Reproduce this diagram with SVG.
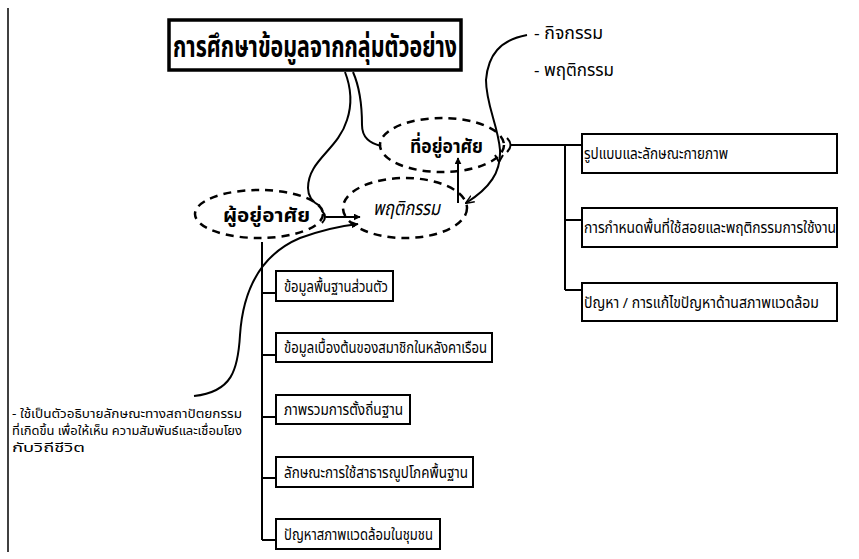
<svg xmlns="http://www.w3.org/2000/svg" width="859" height="559" viewBox="0 0 859 559">
<defs>
<style>
text{font-family:"Noto Sans Thai","Noto Sans","DejaVu Sans",sans-serif;fill:#000}
.box{fill:#fff;stroke:#000;stroke-width:2}
.ell{fill:none;stroke:#000;stroke-width:2.5;stroke-dasharray:8 6}
.ln{fill:none;stroke:#000;stroke-width:2}
.bt{font-size:15px}
.nt{font-size:12px}
.et{font-size:20px;font-weight:bold}
</style>
<marker id="ah" viewBox="0 0 10 10" refX="9" refY="5" markerWidth="7" markerHeight="7" orient="auto" markerUnits="userSpaceOnUse"><path d="M0,0 L10,5 L0,10 z" fill="#000"/></marker>
<marker id="av" viewBox="0 0 10 10" refX="9" refY="5" markerWidth="9" markerHeight="9" orient="auto" markerUnits="userSpaceOnUse"><path d="M0,1 L10,5 L0,9" fill="none" stroke="#000" stroke-width="1.5"/></marker>
</defs>
<rect width="859" height="559" fill="#fff"/>
<line x1="8" y1="8" x2="8" y2="552" stroke="#000" stroke-width="1.5"/>

<g id="connectors">
<path class="ln" d="M345,72 C352,90 352,105 347,120 C338,150 308,160 308,188 C308,198 314,203 320,206"/>
<path class="ln" d="M353,72 C360,88 362,105 362,125 C362,138 370,143 381,146"/>
<path class="ln" d="M507,138 Q514,145 507,152 M511,145 L582,145 M565,145 L565,290 M565,220 L582,220 M565,290 L582,290"/>
<path class="ln" d="M322,211 Q328,217 322,223 M326,217 L360,217" marker-end="url(#ah)"/>
<path class="ln" d="M194,396 C232,392 238,370 240,335 C243,290 260,255 300,238 C322,230 340,226 358,224" marker-end="url(#ah)"/>
<path class="ln" d="M262,242 L262,540 M262,293 L276,293 M262,355 L276,355 M262,417 L276,417 M262,478 L276,478 M262,540 L276,540"/>
<path class="ln" d="M527,35 C500,40 488,55 486,80 C486,105 498,125 500,150 C501,172 490,188 466,203" marker-end="url(#av)"/>
<path class="ln" d="M495,155 L499,162 L503,155"/>
<line class="ln" x1="458" y1="203" x2="458" y2="158" stroke-width="1.5" marker-end="url(#ah)"/>
</g>

<g id="title">
<rect x="169" y="20" width="292" height="50" fill="#fff" stroke="#000" stroke-width="3.5"/>
<text x="173" y="57" font-size="30" font-weight="bold" textLength="284" lengthAdjust="spacingAndGlyphs">การศึกษาข้อมูลจากกลุ่มตัวอย่าง</text>
</g>

<g id="notes-top">
<text x="534" y="39" font-size="17" textLength="69" lengthAdjust="spacingAndGlyphs">- กิจกรรม</text>
<text x="534" y="76" font-size="17" textLength="80" lengthAdjust="spacingAndGlyphs">- พฤติกรรม</text>
</g>

<g id="n-thiuyu">
<ellipse class="ell" cx="442" cy="145" rx="62" ry="27"/>
<text class="et" x="410" y="153" textLength="73" lengthAdjust="spacingAndGlyphs">ที่อยู่อาศัย</text>
</g>
<g id="n-phuyu">
<ellipse class="ell" cx="259" cy="214" rx="64" ry="24"/>
<text class="et" x="223" y="222" textLength="87" lengthAdjust="spacingAndGlyphs">ผู้อยู่อาศัย</text>
</g>
<g id="n-phruet">
<ellipse class="ell" cx="405" cy="208" rx="62" ry="30"/>
<text x="373" y="215" font-size="20" font-style="italic" textLength="67" lengthAdjust="spacingAndGlyphs">พฤติกรรม</text>
</g>

<g id="r1"><rect class="box" x="582" y="134" width="255" height="39"/><text class="bt" x="584" y="159" textLength="144" lengthAdjust="spacingAndGlyphs">รูปแบบและลักษณะกายภาพ</text></g>
<g id="r2"><rect class="box" x="582" y="208" width="255" height="39"/><text class="bt" x="584" y="233" textLength="252" lengthAdjust="spacingAndGlyphs">การกำหนดพื้นที่ใช้สอยและพฤติกรรมการใช้งาน</text></g>
<g id="r3"><rect class="box" x="582" y="283" width="255" height="38"/><text class="bt" x="584" y="308" textLength="235" lengthAdjust="spacingAndGlyphs">ปัญหา / การแก้ไขปัญหาด้านสภาพแวดล้อม</text></g>

<g id="l1"><rect class="box" x="276" y="271" width="117" height="30"/><text class="bt" x="284" y="292" textLength="104" lengthAdjust="spacingAndGlyphs">ข้อมูลพื้นฐานส่วนตัว</text></g>
<g id="l2"><rect class="box" x="276" y="333" width="216" height="29"/><text class="bt" x="284" y="353" textLength="203" lengthAdjust="spacingAndGlyphs">ข้อมูลเบื้องต้นของสมาชิกในหลังคาเรือน</text></g>
<g id="l3"><rect class="box" x="276" y="395" width="134" height="29"/><text class="bt" x="284" y="415" textLength="119" lengthAdjust="spacingAndGlyphs">ภาพรวมการตั้งถิ่นฐาน</text></g>
<g id="l4"><rect class="box" x="276" y="457" width="197" height="30"/><text class="bt" x="284" y="478" textLength="184" lengthAdjust="spacingAndGlyphs">ลักษณะการใช้สาธารณูปโภคพื้นฐาน</text></g>
<g id="l5"><rect class="box" x="276" y="519" width="164" height="30"/><text class="bt" x="284" y="540" textLength="149" lengthAdjust="spacingAndGlyphs">ปัญหาสภาพแวดล้อมในชุมชน</text></g>

<g id="note-left">
<text class="nt" x="12" y="418" textLength="230" lengthAdjust="spacingAndGlyphs">- ใช้เป็นตัวอธิบายลักษณะทางสถาปัตยกรรม</text>
<text class="nt" x="12" y="435" textLength="230" lengthAdjust="spacingAndGlyphs">ที่เกิดขึ้น เพื่อให้เห็น ความสัมพันธ์และเชื่อมโยง</text>
<text class="nt" x="12" y="452" textLength="73" lengthAdjust="spacingAndGlyphs">กับวิถีชีวิต</text>
</g>
</svg>
